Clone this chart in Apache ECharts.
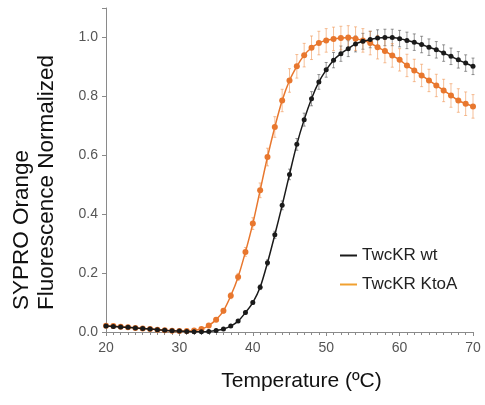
<!DOCTYPE html>
<html>
<head>
<meta charset="utf-8">
<script src="https://cdn.jsdelivr.net/npm/echarts@6/dist/echarts.min.js"></script>
<style>
  html, body { margin: 0; padding: 0; background: #fff; }
  #main { width: 485px; height: 405px; }
</style>
</head>
<body>
<div id="main"></div>
<script>
// temperature (ºC), one reading per degree
var temps = [20, 21, 22, 23, 24, 25, 26, 27, 28, 29,
             30, 31, 32, 33, 34, 35, 36, 37, 38, 39,
             40, 41, 42, 43, 44, 45, 46, 47, 48, 49,
             50, 51, 52, 53, 54, 55, 56, 57, 58, 59,
             60, 61, 62, 63, 64, 65, 66, 67, 68, 69, 70];

// TwcKR wt
var wtVals = [0.020, 0.019, 0.017, 0.016, 0.014, 0.012, 0.010, 0.008, 0.006, 0.004,
              0.003, 0.002, 0.001, 0.001, 0.002, 0.005, 0.010, 0.020, 0.037, 0.066,
              0.100, 0.152, 0.235, 0.330, 0.430, 0.535, 0.637, 0.721, 0.792, 0.849,
              0.890, 0.923, 0.945, 0.962, 0.978, 0.987, 0.993, 0.998, 1.000, 1.000,
              0.996, 0.990, 0.984, 0.976, 0.967, 0.958, 0.947, 0.936, 0.924, 0.913, 0.902];
var wtErr  = [0.003, 0.003, 0.003, 0.003, 0.003, 0.003, 0.003, 0.003, 0.003, 0.003,
              0.003, 0.003, 0.003, 0.003, 0.003, 0.003, 0.003, 0.003, 0.004, 0.005,
              0.006, 0.008, 0.010, 0.012, 0.015, 0.018, 0.020, 0.022, 0.024, 0.025,
              0.025, 0.026, 0.026, 0.027, 0.027, 0.027, 0.028, 0.028, 0.028, 0.028,
              0.028, 0.028, 0.028, 0.028, 0.028, 0.028, 0.028, 0.028, 0.028, 0.028, 0.028];

// TwcKR KtoA
var koVals = [0.021, 0.020, 0.018, 0.016, 0.014, 0.012, 0.010, 0.008, 0.006, 0.004,
              0.003, 0.003, 0.005, 0.010, 0.022, 0.042, 0.072, 0.123, 0.187, 0.272,
              0.368, 0.481, 0.594, 0.696, 0.786, 0.854, 0.902, 0.940, 0.965, 0.981,
              0.990, 0.995, 0.998, 1.000, 0.996, 0.990, 0.981, 0.967, 0.954, 0.939,
              0.924, 0.905, 0.888, 0.871, 0.854, 0.837, 0.820, 0.803, 0.786, 0.775, 0.766];
var koErr  = [0.004, 0.004, 0.004, 0.004, 0.004, 0.004, 0.004, 0.004, 0.004, 0.004,
              0.004, 0.004, 0.004, 0.004, 0.005, 0.006, 0.008, 0.010, 0.012, 0.015,
              0.020, 0.025, 0.030, 0.035, 0.038, 0.040, 0.040, 0.040, 0.040, 0.040,
              0.040, 0.040, 0.040, 0.040, 0.040, 0.040, 0.040, 0.040, 0.040, 0.040,
              0.038, 0.038, 0.038, 0.038, 0.038, 0.038, 0.038, 0.040, 0.040, 0.040, 0.040];

var seriesNames = ['TwcKR wt', 'TwcKR KtoA'];
var xTicks = [20, 30, 40, 50, 60, 70];
var yTicks = [0.0, 0.2, 0.4, 0.6, 0.8, 1.0];

var myChart = echarts.init(document.getElementById('main'));

function pairs(vals) {
    return temps.map(function (t, i) { return [t, vals[i]]; });
}
function errData(vals, errs) {
    return temps.map(function (t, i) { return [t, vals[i] - errs[i], vals[i] + errs[i]]; });
}
function errRender(color) {
    return function (params, api) {
        var lo = api.coord([api.value(0), api.value(1)]);
        var hi = api.coord([api.value(0), api.value(2)]);
        var style = { stroke: color, lineWidth: 1 };
        return {
            type: 'group',
            children: [
                { type: 'line', shape: { x1: lo[0], y1: lo[1], x2: hi[0], y2: hi[1] }, style: style },
                { type: 'line', shape: { x1: lo[0] - 1.5, y1: lo[1], x2: lo[0] + 1.5, y2: lo[1] }, style: style },
                { type: 'line', shape: { x1: hi[0] - 1.5, y1: hi[1], x2: hi[0] + 1.5, y2: hi[1] }, style: style }
            ]
        };
    };
}

var axisGrey = '#8a8a8a';

option = {
    animation: false,
    textStyle: { fontFamily: 'Liberation Sans, Arial, sans-serif' },
    grid: { left: 106, right: 12, top: 8, bottom: 73 },
    legend: {
        orient: 'vertical',
        left: 335,
        top: 242,
        icon: 'rect',
        itemWidth: 17,
        itemHeight: 2,
        itemGap: 12,
        textStyle: { fontSize: 17, color: '#222', fontFamily: 'Liberation Sans' },
        data: [
            { name: seriesNames[0], itemStyle: { color: '#1a1a1a' } },
            { name: seriesNames[1], itemStyle: { color: '#f0a030' } }
        ]
    },
    xAxis: {
        type: 'value',
        min: 20,
        max: 70,
        interval: 10,
        name: 'Temperature (ºC)',
        nameLocation: 'middle',
        nameGap: 39,
        nameTextStyle: { fontSize: 21, color: '#111', padding: [0, 0, 0, 24] },
        axisLine: { lineStyle: { color: axisGrey } },
        axisTick: { show: true, length: 4, lineStyle: { color: axisGrey } },
        minorTick: { show: true, splitNumber: 10, length: 3, lineStyle: { color: axisGrey } },
        splitLine: { show: false },
        axisLabel: {
            fontSize: 14, color: '#555', margin: 9,
            formatter: function (v) { return xTicks.indexOf(v) >= 0 ? String(v) : ''; }
        }
    },
    yAxis: {
        type: 'value',
        min: 0,
        max: 1.1,
        interval: 0.2,
        name: '{a|SYPRO Orange}\n{a|Fluorescence Normalized}',
        nameLocation: 'middle',
        nameGap: 47,
        nameTextStyle: {
            color: '#111',
            padding: [0, 22, 0, 0],
            rich: { a: { fontSize: 22.5, lineHeight: 25, width: 258, align: 'left', color: '#111' } }
        },
        axisLine: { show: true, lineStyle: { color: axisGrey } },
        axisTick: { show: true, length: 4, lineStyle: { color: axisGrey } },
        splitLine: { show: false },
        axisLabel: {
            fontSize: 14, color: '#555', margin: 8,
            formatter: function (v) {
                for (var i = 0; i < yTicks.length; i++) {
                    if (Math.abs(yTicks[i] - v) < 1e-6) return yTicks[i].toFixed(1);
                }
                return '';
            }
        }
    },
    series: [
        {
            name: seriesNames[0] + ' err',
            type: 'custom',
            renderItem: errRender('rgba(70,70,70,0.55)'),
            data: errData(wtVals, wtErr),
            z: 1,
            silent: true
        },
        {
            name: seriesNames[1] + ' err',
            type: 'custom',
            renderItem: errRender('rgba(238,140,70,0.55)'),
            data: errData(koVals, koErr),
            z: 1,
            silent: true
        },
        {
            name: seriesNames[1],
            type: 'line',
            data: pairs(koVals),
            smooth: 0.3,
            symbol: 'circle',
            symbolSize: 6,
            itemStyle: { color: '#e8772e' },
            lineStyle: { color: '#e8772e', width: 1.5 },
            z: 3
        },
        {
            name: seriesNames[0],
            type: 'line',
            data: pairs(wtVals),
            smooth: 0.3,
            symbol: 'circle',
            symbolSize: 5,
            itemStyle: { color: '#1a1a1a' },
            lineStyle: { color: '#1a1a1a', width: 1.5 },
            z: 4
        }
    ]
};

myChart.setOption(option);
</script>
</body>
</html>
